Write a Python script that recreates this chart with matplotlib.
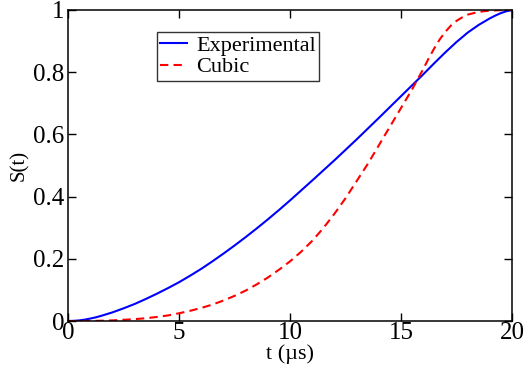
import matplotlib
matplotlib.use("Agg")
import matplotlib.pyplot as plt

t_exp = [0, 0.25, 0.5, 0.75, 1, 1.25, 1.5, 2, 2.5, 3, 3.5, 4, 4.5, 5, 5.5, 6,
         6.5, 7, 7.5, 8, 8.5, 9, 9.5, 10, 11, 12, 13, 14, 15, 16, 16.5, 17,
         17.5, 18, 18.5, 19, 19.25, 19.5, 19.75, 20]
s_exp = [0, 0.0006, 0.002, 0.0045, 0.008, 0.012, 0.017, 0.028, 0.041, 0.055,
         0.071, 0.088, 0.106, 0.125, 0.146, 0.168, 0.192, 0.217, 0.243, 0.27,
         0.298, 0.327, 0.357, 0.388, 0.452, 0.517, 0.584, 0.653, 0.723, 0.793,
         0.829, 0.864, 0.897, 0.927, 0.952, 0.973, 0.982, 0.99, 0.996, 1.0]

t_cub = [0, 0.5, 1, 1.5, 2, 2.5, 3, 3.5, 4, 4.5, 5, 5.5, 6, 6.5, 7, 7.5, 8,
         8.5, 9, 9.5, 10, 10.5, 11, 11.5, 12, 12.5, 13, 13.5, 14, 14.5, 15,
         15.5, 16, 16.25, 16.5, 16.75, 17, 17.25, 17.5, 17.75, 18, 18.5, 19,
         19.5, 20]
s_cub = [0, 0.00004, 0.0003, 0.001, 0.002, 0.004, 0.006, 0.009, 0.013, 0.018,
         0.025, 0.033, 0.042, 0.053, 0.066, 0.081, 0.098, 0.118, 0.14, 0.165,
         0.192, 0.223, 0.258, 0.299, 0.345, 0.395, 0.45, 0.505, 0.565, 0.625,
         0.685, 0.745, 0.81, 0.845, 0.877, 0.906, 0.93, 0.95, 0.965, 0.976,
         0.985, 0.994, 0.998, 0.9995, 1.0]

x_ticks = [0, 5, 10, 15, 20]
y_ticks = [0, 0.2, 0.4, 0.6, 0.8, 1]
y_tick_labels = ["0", "0.2", "0.4", "0.6", "0.8", "1"]

plt.rcParams['font.family'] = ['Liberation Serif', 'DejaVu Serif']

fig = plt.figure(figsize=(5.24, 3.77), dpi=100)
ax = fig.add_axes([0.1303, 0.1485, 0.8467, 0.825])

ax.plot(t_exp, s_exp, color='#0000ff', lw=1.5, label='Experimental')
ax.plot(t_cub, s_cub, color='#ff0000', lw=1.5, dashes=(4, 2.5), label='Cubic')

ax.set_xlim(0, 20)
ax.set_ylim(0, 1)
ax.set_xticks(x_ticks)
ax.set_xticklabels([str(v) for v in x_ticks])
ax.set_yticks(y_ticks)
ax.set_yticklabels(y_tick_labels)
ax.tick_params(direction='in', length=6, width=1, labelsize=18, top=True,
               right=True, pad=1)
ax.tick_params(axis='y', pad=3)
for sp in ax.spines.values():
    sp.set_linewidth(1.1)

ax.set_xlabel('t (µs)', fontsize=16, labelpad=0)
ax.set_ylabel('S(t)', fontsize=15, labelpad=3)

leg = ax.legend(loc='upper left', bbox_to_anchor=(0.2, 0.93), fontsize=16,
                frameon=True, fancybox=False, edgecolor='black',
                handlelength=1.2, handletextpad=0.4, borderpad=0.15,
                labelspacing=0.05, borderaxespad=0)
leg.get_frame().set_linewidth(1.0)

fig.savefig('out.png', dpi=100)
